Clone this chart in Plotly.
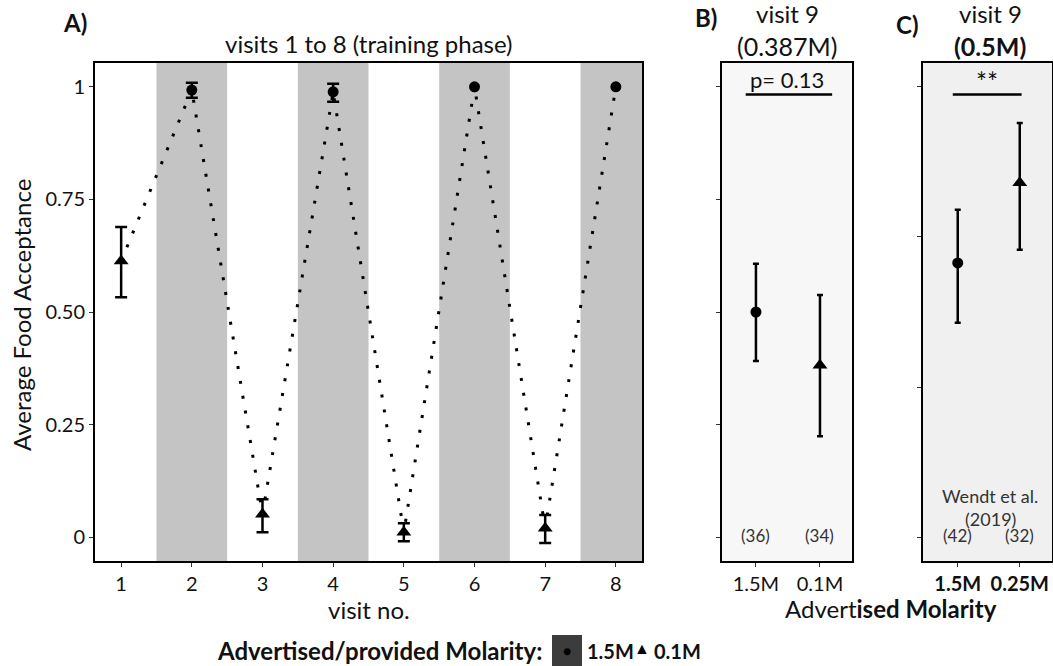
import plotly.graph_objects as go

W, H = 1053, 666
FONT = "Lato"

# ---------------- data ----------------
visits = [1, 2, 3, 4, 5, 6, 7, 8]
visit_molarity = ["0.1M", "1.5M", "0.1M", "1.5M", "0.1M", "1.5M", "0.1M", "1.5M"]
visit_mean = [0.613, 0.993, 0.051, 0.989, 0.011, 1.000, 0.020, 1.000]
visit_low = [0.533, 0.976, 0.011, 0.967, -0.009, 1.000, -0.013, 1.000]
visit_high = [0.689, 1.009, 0.084, 1.007, 0.031, 1.000, 0.049, 1.000]
shaded_visits = [2, 4, 6, 8]

b_categories = ["1.5M", "0.1M"]
b_mean = [0.500, 0.382]
b_low = [0.391, 0.224]
b_high = [0.607, 0.538]
b_n = ["(36)", "(34)"]

c_categories = ["1.5M", "0.25M"]
c_mean = [0.609, 0.787]
c_low = [0.476, 0.638]
c_high = [0.727, 0.920]
c_n = ["(42)", "(32)"]

y_ticks_a = [0, 0.25, 0.5, 0.75, 1]
y_ticklabels_a = ["0", "0.25", "0.50", "0.75", "1"]
y_ticks_c = [0, 1 / 3, 2 / 3, 1]

symbol_of = {"1.5M": "circle", "0.1M": "triangle-up", "0.25M": "triangle-up"}

# ---------------- layout helpers ----------------
def px(x):
    return x / W


def py(y):
    return 1 - y / H


YR = [-0.053, 1.053]
XR_A = [0.63, 8.37]
XR_B = [-0.53, 1.5]
XR_C = [-0.56, 1.52]

fig = go.Figure()


def add_points(xs, cats, means, lows, highs, xa, ya, capw):
    for x, c, m, lo, hi in zip(xs, cats, means, lows, highs):
        has_err = (hi - m) > 1e-9 or (m - lo) > 1e-9
        sym = symbol_of[c]
        fig.add_trace(go.Scatter(
            x=[x], y=[m], mode="markers", xaxis=xa, yaxis=ya,
            marker=dict(symbol=sym, size=13 if sym != "circle" else 11,
                        color="black", line=dict(width=0)),
            error_y=dict(type="data", symmetric=False, array=[hi - m],
                         arrayminus=[m - lo], visible=has_err,
                         thickness=2.5, width=capw, color="black"),
            showlegend=False, hoverinfo="skip"))


# Panel A dotted line
fig.add_trace(go.Scatter(x=visits, y=visit_mean, mode="lines",
                         line=dict(color="black", width=3, dash="3px,12px"),
                         xaxis="x", yaxis="y", showlegend=False, hoverinfo="skip"))
add_points(visits, visit_molarity, visit_mean, visit_low, visit_high, "x", "y", 6)
add_points(b_categories, b_categories, b_mean, b_low, b_high, "x2", "y2", 3)
add_points(c_categories, c_categories, c_mean, c_low, c_high, "x3", "y3", 3)

shapes = []
# shaded bands in panel A
for v in shaded_visits:
    shapes.append(dict(type="rect", xref="x", yref="y",
                       x0=v - 0.5, x1=min(v + 0.5, XR_A[1]), y0=YR[0], y1=YR[1],
                       fillcolor="#c4c4c4", line=dict(width=0), layer="below"))
# backgrounds of B and C
shapes.append(dict(type="rect", xref="x2 domain", yref="y2 domain", x0=0, x1=1, y0=0, y1=1,
                   fillcolor="#f7f7f7", line=dict(width=0), layer="below"))
shapes.append(dict(type="rect", xref="x3 domain", yref="y3 domain", x0=0, x1=1, y0=0, y1=1,
                   fillcolor="#f0f0f0", line=dict(width=0), layer="below"))
# significance lines
shapes.append(dict(type="line", xref="x2", yref="y2", x0=-0.16, x1=1.19, y0=0.983, y1=0.983,
                   line=dict(color="black", width=2.5)))
shapes.append(dict(type="line", xref="x3", yref="y3", x0=-0.08, x1=1.03, y0=0.983, y1=0.983,
                   line=dict(color="black", width=2.5)))
# legend key box
shapes.append(dict(type="rect", xref="paper", yref="paper",
                   x0=px(552), x1=px(582), y0=py(667), y1=py(635),
                   fillcolor="#3c3c3c", line=dict(width=0)))

TXT = "#111111"
ann = []


def A(text, x, y, size=19, xanchor="center", yanchor="middle", color=TXT, **kw):
    ann.append(dict(text=text, x=px(x), y=py(y), xref="paper", yref="paper",
                    showarrow=False, xanchor=xanchor, yanchor=yanchor,
                    font=dict(family=FONT, size=size, color=color), **kw))


A("<b>A)</b>", 75, 23, size=24)
A("visits 1 to 8 (training phase)", 368.5, 43, size=24)
A("<b>B)</b>", 706, 17, size=24)
A("visit 9", 787, 14, size=24)
A("(0.387M)", 787, 46, size=25)
A("<b>C)</b>", 907, 25, size=24)
A("visit 9", 990, 14, size=24)
A("<b>(0.5M)</b>", 990, 46, size=25)
A("p= 0.13", 787, 79, size=22)
A("**", 987, 82, size=26)
A("Average Food Acceptance", 21, 315, size=24, textangle=-90)
A("visit no.", 368.5, 609, size=24)
A("Advert<b>ised Molarity</b>", 891, 608, size=24)
A("Wendt et al.", 990, 496, size=18, color="#333333")
A("(2019)", 990, 519, size=18, color="#333333")
A("<b>Advertised/provided Molarity:</b>", 544, 650, size=24, xanchor="right")
A("●", 567, 650, size=14, color="black")
A("<b>1.5M</b>", 585, 651, size=20, xanchor="left")
A("▲", 642, 647, size=16, color="black")
A("<b>0.1M</b>", 652, 651, size=20, xanchor="left")

# sample sizes under points (category-referenced)
for cat, n in zip(b_categories, b_n):
    ann.append(dict(text=n, x=cat, y=py(548), xref="x2", yref="paper", showarrow=False,
                    font=dict(family=FONT, size=17, color="#333333")))
for cat, n in zip(c_categories, c_n):
    ann.append(dict(text=n, x=cat, y=py(548), xref="x3", yref="paper", showarrow=False,
                    font=dict(family=FONT, size=17, color="#333333")))

axis_common = dict(showgrid=False, zeroline=False, showline=True, linecolor="black",
                   linewidth=2, mirror=True, ticks="outside", ticklen=4,
                   tickcolor="#333333", tickwidth=1,
                   tickfont=dict(family=FONT, size=20, color=TXT))

ydom = [py(561), py(63)]

fig.update_layout(
    width=W, height=H, margin=dict(l=0, r=0, t=0, b=0),
    paper_bgcolor="white", plot_bgcolor="white",
    showlegend=False,
    xaxis=dict(domain=[px(95), px(642)], range=XR_A, tickvals=visits,
               ticktext=[str(v) for v in visits], anchor="y", **axis_common),
    yaxis=dict(domain=ydom, range=YR, tickvals=y_ticks_a, ticktext=y_ticklabels_a,
               anchor="x", **axis_common),
    xaxis2=dict(domain=[px(722), px(852)], range=XR_B, type="category",
                categoryorder="array", categoryarray=b_categories,
                anchor="y2", **axis_common),
    yaxis2=dict(domain=ydom, range=YR, tickvals=y_ticks_a, showticklabels=False,
                anchor="x2", **axis_common),
    xaxis3=dict(domain=[px(923), px(1052)], range=XR_C, type="category",
                categoryorder="array", categoryarray=c_categories,
                tickvals=c_categories, ticktext=["<b>%s</b>" % c for c in c_categories],
                anchor="y3", **axis_common),
    yaxis3=dict(domain=ydom, range=YR, tickvals=y_ticks_c, showticklabels=False,
                anchor="x3", **axis_common),
    shapes=shapes,
    annotations=ann,
)
fig.update_xaxes(tickfont=dict(size=20))
fig.update_yaxes(tickfont=dict(size=20))

fig.write_html("out.html")
